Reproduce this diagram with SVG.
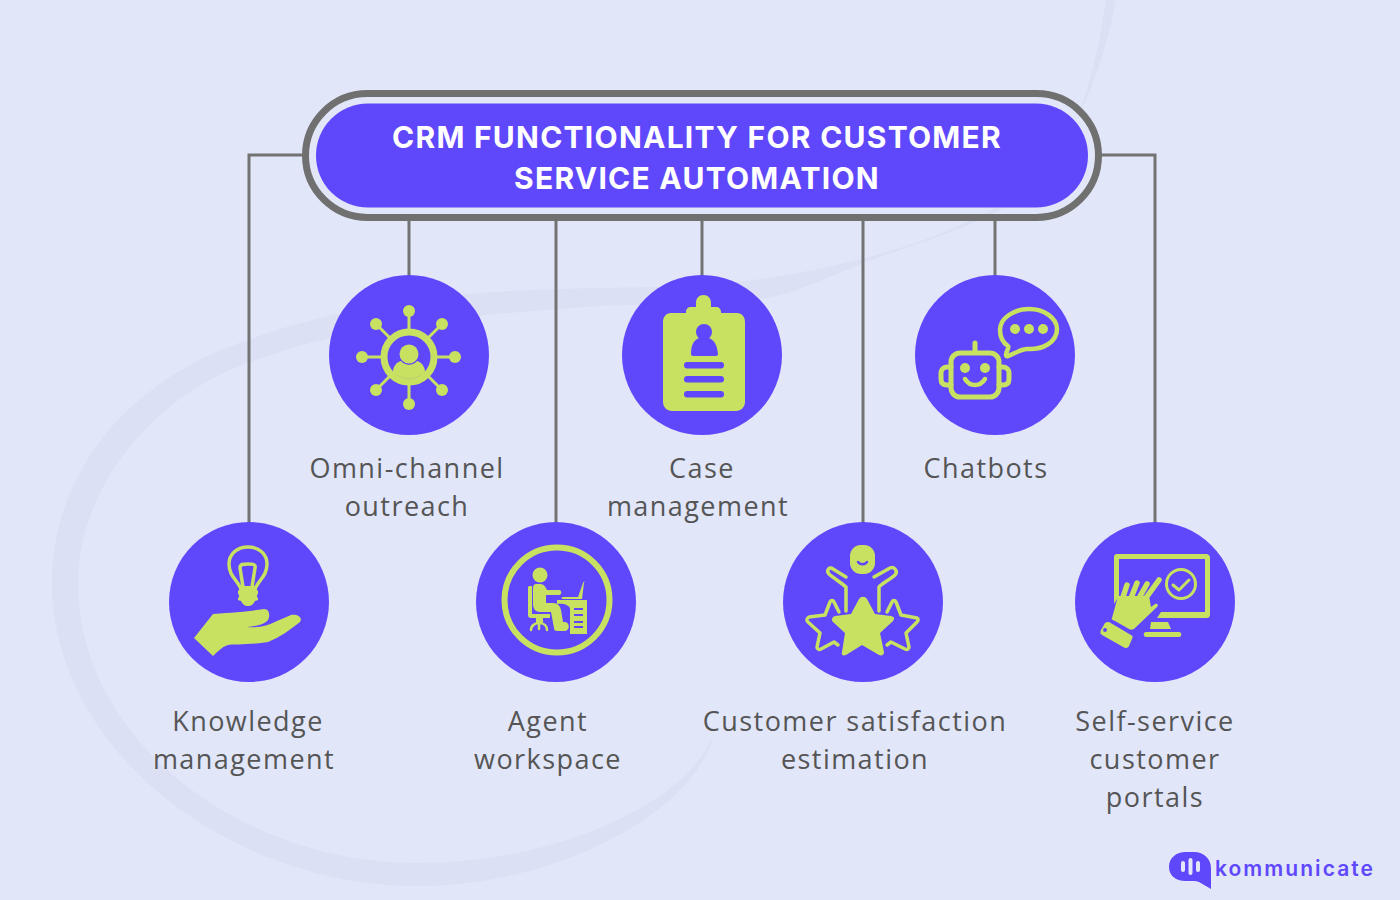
<svg xmlns="http://www.w3.org/2000/svg" width="1400" height="900" viewBox="0 0 1400 900">
<style>
.bg{fill:#e1e6f9}
.swoosh{fill:#dbe0f5}
.wire{fill:none;stroke:#737373;stroke-width:3}
.disc{fill:#5f48fc}
.lime{fill:#c8e161}
.cut{fill:#5f48fc}
.ln{fill:none;stroke:#c8e161;stroke-linecap:round;stroke-linejoin:round}
.label{font-family:"Open Sans","Noto Sans",sans-serif;font-size:27px;letter-spacing:1.45px;fill:#555;text-anchor:middle}
.title{font-family:Inter,"Liberation Sans",sans-serif;font-weight:700;font-size:30px;letter-spacing:1.25px;fill:#fff;text-anchor:middle}
.brand{font-family:Inter,"Open Sans",sans-serif;font-weight:600;font-size:21px;letter-spacing:2.05px;fill:#5f48fc}
</style>
<rect class="bg" width="1400" height="900"/>
<!-- tapered ribbon behind the chart -->
<path class="swoosh" d="M1116 0C1100 85 1065 165 1000 205C930 245 850 265 767 278C720 286 660 287 600 288C540 289 450 292 380 306C320 316 280 328 242 342C120 385 52 480 52 583C52 750 230 886 417 886C560 886 700 810 715 729C695 800 560 863 417 863C240 863 78 740 78 583C78 490 150 400 242 365C320 335 400 322 485 315C520 312 560 309 600 306C660 304 715 303 767 298C800 292 830 276 863 263C930 238 985 225 1030 190C1075 150 1095 75 1106 0Z"/>

<g id="connectors">
<path class="wire" d="M303 155H249V524"/>
<path class="wire" d="M1101 155H1155V524"/>
<path class="wire" d="M409 220V277"/>
<path class="wire" d="M556 220V524"/>
<path class="wire" d="M702 220V277"/>
<path class="wire" d="M863 220V524"/>
<path class="wire" d="M995 220V277"/>
</g>

<g id="header">
<rect x="305.500" y="93.500" width="793" height="124" rx="62" fill="none" stroke="#707070" stroke-width="7"/>
<rect x="316" y="103.500" width="772" height="104" rx="52" class="disc"/>
<text class="title" x="697" y="148">CRM FUNCTIONALITY FOR CUSTOMER</text>
<text class="title" x="697" y="189">SERVICE AUTOMATION</text>
</g>

<g id="omni">
<circle class="disc" cx="409" cy="355" r="80"/>
<path class="ln" stroke-width="3" d="M409 311V400M364 357H454M376 324L442 390M442 324L376 390"/>
<g class="lime">
<circle cx="409" cy="311" r="6"/><circle cx="409" cy="404" r="6"/><circle cx="362" cy="357" r="6"/><circle cx="455" cy="357" r="6"/>
<circle cx="376" cy="324" r="6"/><circle cx="442" cy="324" r="6"/><circle cx="376" cy="390" r="6"/><circle cx="442" cy="390" r="6"/>
</g>
<circle cx="409" cy="357" r="25" class="cut"/>
<circle cx="409" cy="357" r="25" fill="none" stroke="#c8e161" stroke-width="7"/>
<circle class="lime" cx="409" cy="354" r="9.500"/>
<path class="lime" d="M393 372C393 366 397 362 401 361C405 366 413 366 417 361C421 362 425 366 425 372C416 381 402 381 393 372Z"/>
<text class="label" x="407" y="478">Omni-channel</text>
<text class="label" x="407" y="516">outreach</text>
</g>

<g id="case">
<circle class="disc" cx="702" cy="355" r="80"/>
<path class="lime" d="M671 313H686V312C686 309 688 307 691 307H696V303C696 298 699 295 703.500 295C708 295 711 298 711 303V307H716C719 307 721 309 721 312V313H737C742 313 745 317 745 322V402C745 407 741 411 736 411H672C667 411 663 407 663 402V322C663 317 666 313 671 313Z"/>
<circle class="cut" cx="704" cy="332" r="8"/>
<path class="cut" d="M691 354C691 345 694 339 700 338H708C714 339 717 345 718 354C718 355 717 356 716 356H693C692 356 691 355 691 354Z"/>
<rect class="cut" x="684" y="362" width="40" height="6.500" rx="3.250"/>
<rect class="cut" x="684" y="376" width="40" height="6.500" rx="3.250"/>
<rect class="cut" x="684" y="391" width="40" height="6.500" rx="3.250"/>
<text class="label" x="702" y="478">Case</text>
<text class="label" x="698" y="516">management</text>
</g>

<g id="chatbots">
<circle class="disc" cx="995" cy="355" r="80"/>
<path class="ln" stroke-width="4.500" d="M1029 309C1044 309 1057 318 1057 329C1057 342 1043 350 1027 349C1021 349 1014 354 1008 356C1005 357 1006 354 1007 351C1008 349 1009 347 1008 346C1002 342 1000 336 1000 330C1000 318 1014 309 1029 309Z"/>
<circle class="lime" cx="1015" cy="329" r="5"/><circle class="lime" cx="1029" cy="329" r="5"/><circle class="lime" cx="1043" cy="329" r="5"/>
<rect class="ln" x="951" y="353" width="48" height="44" rx="9" stroke-width="5"/>
<path class="ln" stroke-width="5" d="M975 343V352M951 367H947C943 367 941 370 941 373V379C941 383 943 385 947 385H951M999 367H1003C1007 367 1009 370 1009 373V379C1009 383 1007 385 1003 385H999"/>
<circle class="lime" cx="965" cy="368" r="5"/><circle class="lime" cx="985" cy="368" r="5"/>
<path class="ln" stroke-width="4.500" d="M965 379C970 387 980 387 985 379"/>
<text class="label" x="986" y="478">Chatbots</text>
</g>

<g id="knowledge">
<circle class="disc" cx="249" cy="602" r="80"/>
<path class="ln" stroke-width="3.500" d="M240 587C236 579 229 575 229 564C229 554 237 547 248 547C259 547 267 554 267 564C267 575 260 579 256 587M243 587L240 568C240 564 243 564 248 564C253 564 256 564 255 568L252 587"/>
<path class="lime" d="M239 586H257V590L258 591V594L257 595V597L258 598V600L255 601C253 605 251 606 248 606C245 606 243 605 241 601L238 600V598L239 597V595L238 594V591L239 590Z"/>
<path class="lime" d="M194 638L213 614C222 613 245 612 264 609C270 609 270 616 268 620C264 625 255 626 247 627C258 628 268 626 277 621L291 615C298 614 303 618 300 622C290 630 280 637 268 642C250 645 232 644 228 645C222 647 218 651 213 656Z"/>
<text class="label" x="248" y="731">Knowledge</text>
<text class="label" x="244" y="769">management</text>
</g>

<g id="agent">
<circle class="disc" cx="556" cy="602" r="80"/>
<circle cx="557" cy="600" r="52.500" fill="none" stroke="#c8e161" stroke-width="6"/>
<circle class="lime" cx="540" cy="575" r="7.500"/>
<path class="lime" d="M529 586H532V614H550V618H531C529 618 528 617 528 615V587ZM536 584H541C545 585 546 588 547 590H559C562 590 562 595 559 595H546V603H553C558 603 560 606 561 610L563 622H565C570 622 570 631 565 631H557C555 631 554 630 554 628L551 612H540C535 612 533 608 533 604V588C533 586 534 584 536 584Z"/>
<path class="lime" d="M563 599H582L584 583C585 581 584 581 583 583L578 597H563C561 597 561 599 563 599ZM557 600H587V634H570V609C570 605 563 603 557 604Z"/>
<rect class="cut" x="574" y="608" width="9" height="2"/><rect class="cut" x="574" y="614" width="9" height="2"/><rect class="cut" x="574" y="621" width="9" height="2"/><rect class="cut" x="574" y="626" width="9" height="2"/>
<rect class="lime" x="536" y="618" width="7" height="5"/>
<path class="ln" stroke-width="2.500" d="M531 630C531 625 536 623 539 623C543 623 547 625 547 630M539 623V629"/>
<text class="label" x="548" y="731">Agent</text>
<text class="label" x="548" y="769">workspace</text>
</g>

<g id="satisfaction">
<circle class="disc" cx="863" cy="602" r="80"/>
<rect class="lime" x="850" y="545" width="25" height="29" rx="11"/>
<path fill="none" stroke="#5f48fc" stroke-linecap="round" stroke-width="2.500" d="M858 562C860 565 865 565 867 562"/>
<path class="ln" stroke-width="3.500" d="M846 577L833 569C829 566 826 571 829 574C832 577 843 584 846 587V611M874 577L890 568C895 566 898 572 895 575C892 578 880 585 879 587V611"/>
<path class="lime" d="M859 599C861 596 865 596 867 599L875 614L891 616C895 617 895 619 892 622L880 633L884 652C884 655 882 656 879 655L862 645L846 655C843 656 841 655 842 652L845 633L833 622C831 620 832 617 835 616L851 614Z"/>
<path class="ln" stroke-width="3.500" d="M839 612L834 602C833 600 831 600 830 602L825 615L809 617C807 618 806 620 808 622L820 633L817 647C817 649 819 650 821 649L834 642L838 645M887 612L892 602C893 600 895 600 896 602L901 615L917 618C919 619 918 621 917 622L906 633L909 647C909 649 907 650 905 649L891 642L887 645"/>
<text class="label" x="855" y="731">Customer satisfaction</text>
<text class="label" x="855" y="769">estimation</text>
</g>

<g id="selfservice">
<circle class="disc" cx="1155" cy="602" r="80"/>
<path class="lime" d="M1117 554H1206C1209 554 1210 556 1210 558V614C1210 617 1209 618 1206 618H1157L1161 612H1205V559H1119V596L1114 604V557C1114 555 1115 554 1117 554Z"/>
<path class="lime" d="M1151 622H1168L1171 629H1150ZM1146 632H1179C1182 632 1182 637 1179 637H1146C1143 637 1143 632 1146 632Z"/>
<circle cx="1181" cy="584" r="14.500" fill="none" stroke="#c8e161" stroke-width="3"/>
<path class="ln" stroke-width="3" d="M1173 585L1179 590L1189 580"/>
<path class="ln" stroke-width="5.500" d="M1122 600L1127 585M1131 598L1137 583M1139 598L1147 584M1143 602L1159 580"/>
<path class="lime" d="M1112 618L1118 596H1149L1151 607L1155 604C1157 603 1159 605 1157 607L1135 628C1133 630 1131 630 1129 629L1115 621C1112 620 1111 619 1112 618Z"/>
<path class="lime" d="M1101 630L1105 623C1106 622 1107 622 1109 622L1131 635C1133 636 1133 637 1132 639L1129 646C1128 648 1126 648 1125 648L1102 635C1100 634 1100 632 1101 630Z"/>
<circle class="cut" cx="1105" cy="630" r="2"/>
<text class="label" x="1155" y="731">Self-service</text>
<text class="label" x="1155" y="769">customer</text>
<text class="label" x="1155" y="807">portals</text>
</g>

<g id="logo">
<path class="disc" d="M1186 852H1194C1204 852 1211 859 1211 868V889L1199 882C1197 881 1195 881 1186 881C1175 881 1169 875 1169 867C1169 858 1176 852 1186 852Z"/>
<rect x="1181" y="861" width="4" height="11" rx="2" fill="#e1e6f9"/>
<rect x="1188.500" y="858" width="4" height="17" rx="2" fill="#e1e6f9"/>
<rect x="1196" y="861" width="4" height="11" rx="2" fill="#e1e6f9"/>
<text class="brand" x="1215" y="876">kommunicate</text>
</g>
</svg>
